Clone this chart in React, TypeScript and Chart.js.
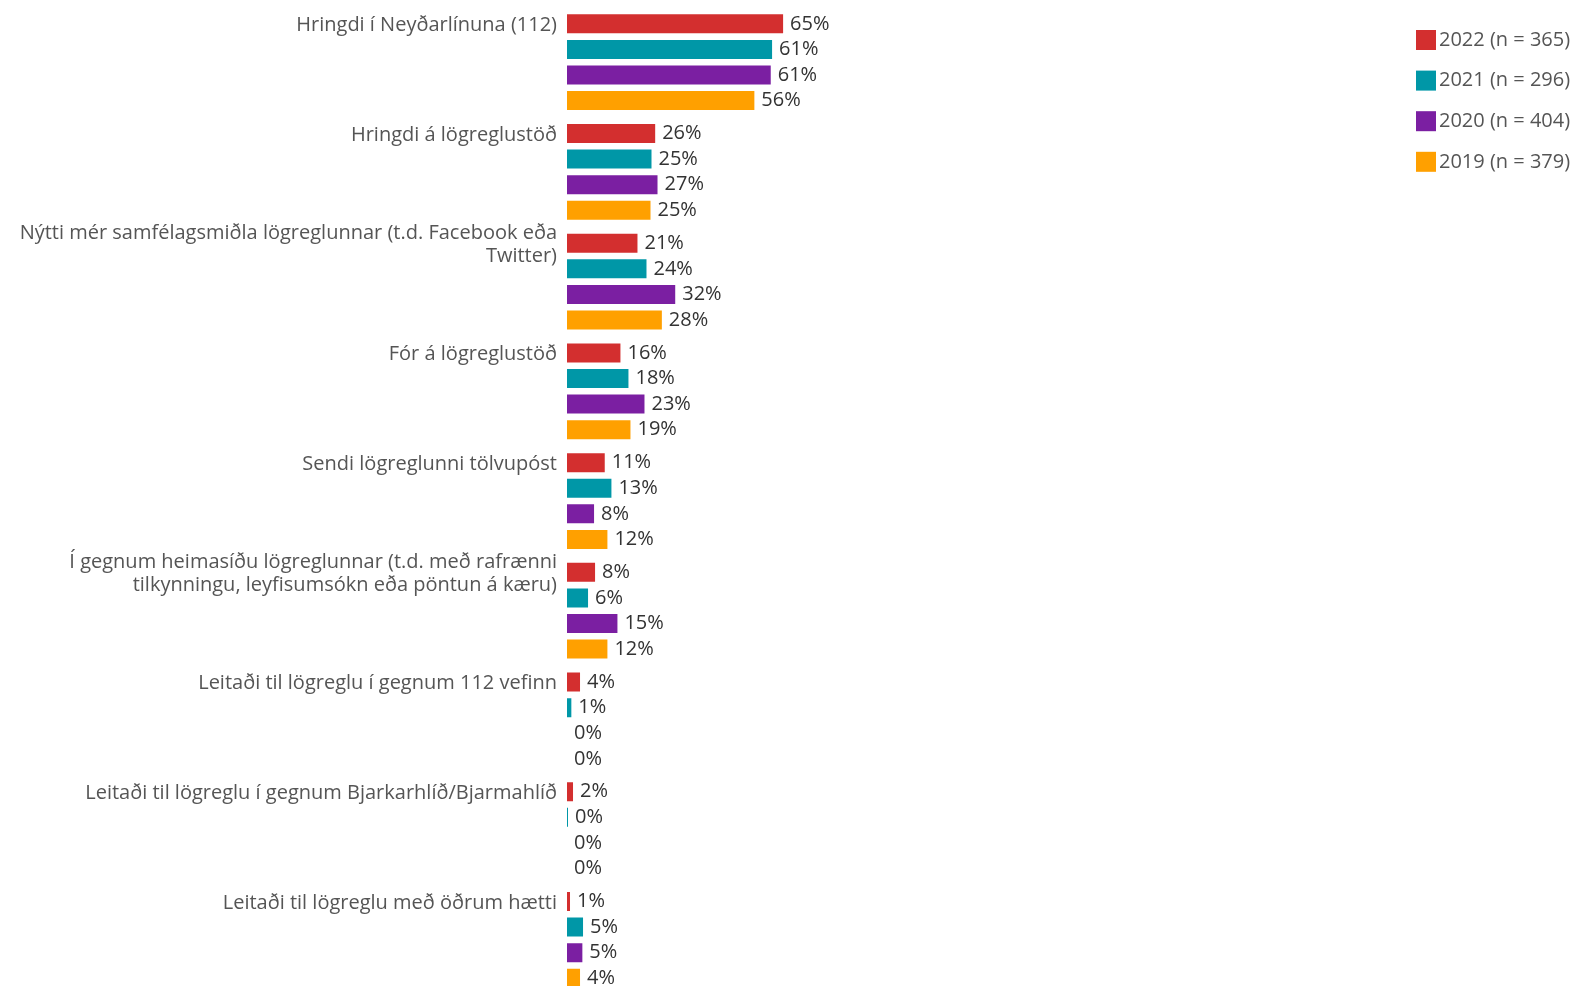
import React, { useEffect, useRef } from 'react';
import { Chart, registerables } from 'chart.js';
Chart.register(...registerables);

const categories: (string | string[])[] = [
  'Hringdi í Neyðarlínuna (112)',
  'Hringdi á lögreglustöð',
  ['Nýtti mér samfélagsmiðla lögreglunnar (t.d. Facebook eða', 'Twitter)'],
  'Fór á lögreglustöð',
  'Sendi lögreglunni tölvupóst',
  ['Í gegnum heimasíðu lögreglunnar (t.d. með rafrænni', 'tilkynningu, leyfisumsókn eða pöntun á kæru)'],
  'Leitaði til lögreglu í gegnum 112 vefinn',
  'Leitaði til lögreglu í gegnum Bjarkarhlíð/Bjarmahlíð',
  'Leitaði til lögreglu með öðrum hætti',
];

const seriesLabels = ['2022 (n = 365)', '2021 (n = 296)', '2020 (n = 404)', '2019 (n = 379)'];
const values2022 = [64.7, 26.4, 21.1, 16.0, 11.3, 8.4, 3.9, 1.8, 0.9];
const values2021 = [61.4, 25.3, 23.8, 18.4, 13.3, 6.3, 1.3, 0.3, 4.8];
const values2020 = [61.0, 27.1, 32.4, 23.2, 8.1, 15.1, 0, 0, 4.6];
const values2019 = [56.1, 25.0, 28.4, 19.0, 12.1, 12.1, 0, 0, 3.9];
const colors = ['#d32f2f', '#0097a7', '#7b1fa2', '#ffa000'];

const FONT = '"Open Sans"';

const dataLabelPlugin = {
  id: 'dataLabels',
  afterDatasetsDraw(chart: any) {
    const ctx = chart.ctx;
    ctx.save();
    ctx.font = `20px ${FONT}`;
    ctx.fillStyle = '#333333';
    ctx.textAlign = 'left';
    ctx.textBaseline = 'middle';
    chart.data.datasets.forEach((ds: any, di: number) => {
      const meta = chart.getDatasetMeta(di);
      meta.data.forEach((bar: any, i: number) => {
        const v = ds.data[i];
        ctx.fillText(`${Math.round(v)}%`, bar.x + 7, bar.y);
      });
    });
    ctx.restore();
  },
};

const legendPlugin = {
  id: 'sideLegend',
  afterDraw(chart: any) {
    const ctx = chart.ctx;
    ctx.save();
    ctx.font = `20px ${FONT}`;
    ctx.textAlign = 'left';
    ctx.textBaseline = 'middle';
    const boxX = chart.width - 158;
    chart.data.datasets.forEach((ds: any, i: number) => {
      const cy = 40 + i * 40.6;
      ctx.fillStyle = ds.backgroundColor;
      ctx.fillRect(boxX, cy - 10, 20, 20);
      ctx.fillStyle = '#555555';
      ctx.fillText(ds.label, boxX + 23, cy);
    });
    ctx.restore();
  },
};

export default function App() {
  const ref = useRef<HTMLCanvasElement>(null);
  useEffect(() => {
    const chart = new Chart(ref.current!, {
      type: 'bar',
      data: {
        labels: categories,
        datasets: [values2022, values2021, values2020, values2019].map((d, i) => ({
          label: seriesLabels[i],
          data: d,
          backgroundColor: colors[i],
          borderWidth: 0,
          categoryPercentage: 0.933,
          barPercentage: 0.742,
        })),
      },
      options: {
        indexAxis: 'y',
        animation: false,
        responsive: true,
        maintainAspectRatio: false,
        layout: { padding: { top: 7.35, bottom: 5.3, left: 0, right: 673 } },
        plugins: { legend: { display: false }, tooltip: { enabled: false } },
        scales: {
          x: { display: false, min: 0, max: 100 },
          y: {
            grid: { display: false, drawTicks: false },
            border: { display: false },
            ticks: {
              padding: 10,
              labelOffset: -37,
              color: '#555555',
              font: { family: FONT, size: 20, lineHeight: 1.17 },
              autoSkip: false,
            },
            afterFit(scale: any) {
              scale.width = 567;
              scale.paddingTop = 0;
              scale.paddingBottom = 0;
            },
          },
        },
      },
      plugins: [dataLabelPlugin, legendPlugin],
    });
    return () => chart.destroy();
  }, []);
  return (
    <div style={{ position: 'absolute', left: 0, top: 0, width: 1574, height: 986, overflow: 'hidden', background: '#fff' }}>
      <div style={{ position: 'relative', width: 1574, height: 1000 }}>
        <canvas ref={ref} />
      </div>
    </div>
  );
}
